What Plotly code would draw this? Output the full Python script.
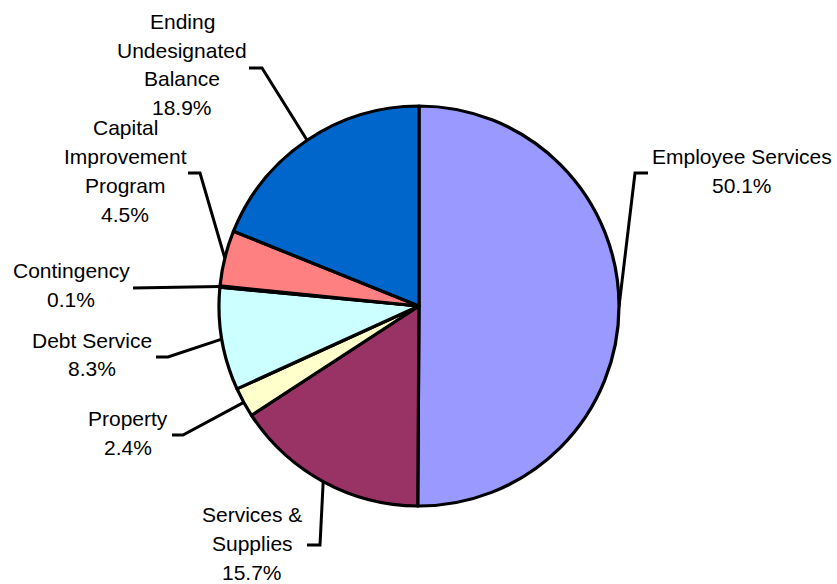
import math
import plotly.graph_objects as go

# ---- data ----
categories = ["Employee Services", "Services &<br>Supplies", "Property", "Debt Service",
              "Contingency", "Capital<br>Improvement<br>Program", "Ending<br>Undesignated<br>Balance"]
shares = [50.1, 15.7, 2.4, 8.3, 0.1, 4.5, 18.9]
colors = ["#9999FF", "#993366", "#FFFFCC", "#CCFFFF", "#000000", "#FF8080", "#0066CC"]

# ---- layout (pixel positions of label text and leader-line elbows) ----
W, H = 837, 584
CX, CY, R = 419, 306, 200
LINE_H = 28.8
label_pos = [(742, 171), (252, 543.5), (128, 433), (92, 354.5), (71, 285), (125, 171), (182, 64.5)]
elbows = [((635, 173), (648, 173)), ((320, 545), (307, 545)), ((183, 435), (172, 435)),
          ((168, 357), (156, 357)), ((133, 288), (133, 288)), ((200, 173), (188, 173)),
          ((262, 68), (249, 68))]

fig = go.Figure()
fig.add_trace(go.Pie(
    values=shares, labels=categories, sort=False, direction="clockwise", rotation=0,
    marker=dict(colors=colors, line=dict(color="black", width=3.2)),
    textinfo="none", hoverinfo="none", showlegend=False,
    domain=dict(x=[(CX - R) / W, (CX + R) / W], y=[1 - (CY + R) / H, 1 - (CY - R) / H]),
))

total = sum(shares)
lx, ly = [], []
annotations = []
cum = 0.0
for cat, v, (tx, ty), (e1, e2) in zip(categories, shares, label_pos, elbows):
    mid = (cum + v / 2) / total * 2 * math.pi
    cum += v
    ax = CX + R * math.sin(mid)
    ay = CY - R * math.cos(mid)
    lx += [ax, e1[0], e2[0], None]
    ly += [ay, e1[1], e2[1], None]
    lines = cat.split("<br>") + [f"{v:.1f}%"]
    n = len(lines)
    for i, t in enumerate(lines):
        annotations.append(dict(
            x=tx, y=ty + (i - (n - 1) / 2) * LINE_H, xref="x", yref="y", text=t,
            showarrow=False, xanchor="center", yanchor="middle", align="center",
            font=dict(family="Liberation Sans, Arial, sans-serif", size=21, color="black")))

fig.add_trace(go.Scatter(x=lx, y=ly, mode="lines", line=dict(color="black", width=3),
                         hoverinfo="skip", showlegend=False))

fig.update_layout(
    width=W, height=H, margin=dict(l=0, r=0, t=0, b=0),
    paper_bgcolor="white", plot_bgcolor="rgba(0,0,0,0)",
    xaxis=dict(range=[0, W], visible=False, domain=[0, 1], fixedrange=True),
    yaxis=dict(range=[H, 0], visible=False, domain=[0, 1], fixedrange=True),
    annotations=annotations,
)
fig.write_html("out.html")
